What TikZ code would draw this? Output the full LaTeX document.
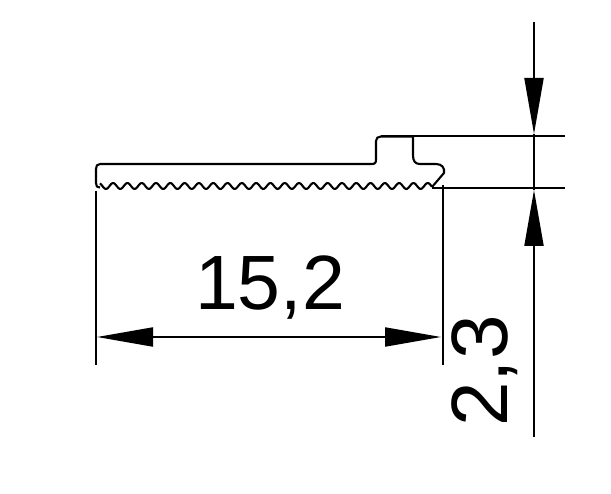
\documentclass[tikz,border=0pt]{standalone}
\usepackage{fontspec}
\setmainfont{Liberation Sans}
\usetikzlibrary{arrows.meta}

\def\profiletop{(100,164) -- (372,164) .. controls (376,164) and (376,162) .. (376,158) -- (376,141) .. controls (376,138) and (378,136.5) .. (381,136.5)}

\begin{document}
\begin{tikzpicture}[x=1pt,y=-1pt]
    \tikzstyle{outline}=[line width=2.1pt, line join=round]
    \tikzstyle{dimline}=[line width=2pt]
    \tikzstyle{dimarrow}=[dimline, -{Triangle[length=56pt,width=19pt]}]
    \tikzstyle{dimtext}=[inner sep=0pt, font=\fontsize{77}{77}\selectfont]
    \useasboundingbox (0,0) rectangle (611,494);
    \fill[white] (0,0) rectangle (611,494);
    % profile
    \draw[outline] \profiletop -- (413,136.5) -- (413,155) .. controls (413,161) and (415,164) .. (420,164)
        -- (436,164) .. controls (442,164) and (445,168) .. (444,173) -- (432,187);
    \draw[outline] (100,164) .. controls (97,164) and (96,166) .. (96,169) -- (96,183) .. controls (96,186) and (97,188) .. (100,187.5);
    \draw[outline] plot[smooth, domain=100:432, samples=240] (\x,{186+3*sin((\x-100)*25.17-60)});
    % extension lines
    \foreach \n/\x/\ya/\yb in { extl/95.5/191/365, extr/443/185/365 } {
        \coordinate (\n a) at (\x,\ya);
        \coordinate (\n b) at (\x,\yb);
        \draw[dimline] (\n a) -- (\n b);
    }
    \foreach \n/\xa/\y in { extu/381/136.5, extd/432/188 } {
        \coordinate (\n a) at (\xa,\y);
        \coordinate (\n b) at (565,\y);
        \draw[dimline] (\n a) -- (\n b);
    }
    % width
    \coordinate (widthl) at (97,337);
    \coordinate (widthr) at (441,337);
    \draw[dimline, {Triangle[length=56pt,width=19pt]}-{Triangle[length=56pt,width=19pt]}] (widthl) -- (widthr);
    \node[dimtext] (width) at (270,288) {15,2};
    % height
    \coordinate (heighttop) at (534,22);
    \coordinate (heightu) at (534,134);
    \coordinate (heightd) at (534,190);
    \coordinate (heightbot) at (534,437);
    \draw[dimarrow] (heighttop) -- (heightu);
    \draw[dimarrow] (heightbot) -- (heightd);
    \draw[dimline] (heightu) -- (heightd);
    \node[dimtext, rotate=90, font=\fontsize{80}{80}\selectfont] (height) at (485,371) {2,3};
\end{tikzpicture}
\end{document}
